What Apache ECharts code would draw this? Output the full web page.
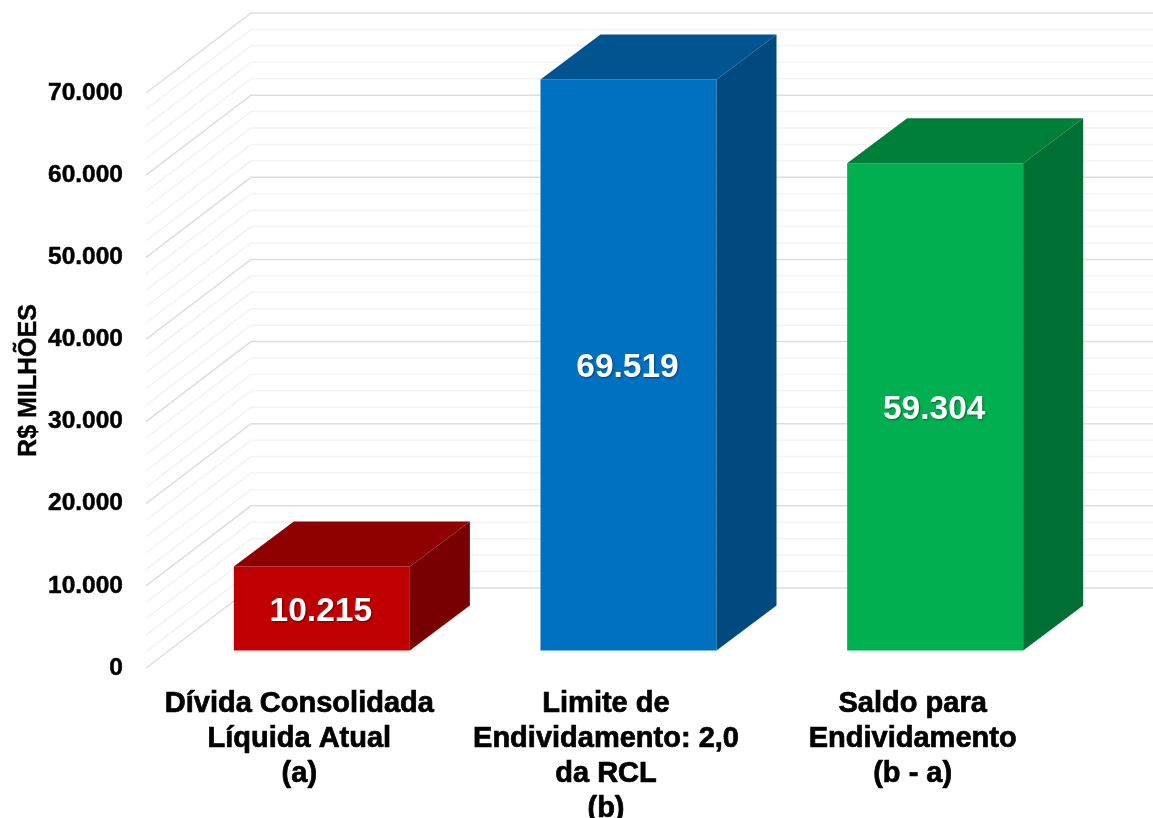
<!DOCTYPE html>
<html><head><meta charset="utf-8">
<style>html,body{margin:0;padding:0;background:#fff}#c{width:1153px;height:818px}</style>
<script src="https://cdn.jsdelivr.net/npm/echarts@6/dist/echarts.min.js"></script>
</head><body><div id="c"></div>
<script>
const categories = ['Dívida Consolidada\nLíquida Atual\n(a)', 'Limite de\nEndividamento: 2,0\nda RCL\n(b)', 'Saldo para\nEndividamento\n(b - a)'];
const values = [10215, 69519, 59304];
const valueLabels = ['10.215', '69.519', '59.304'];
const majorTicks = [0, 10000, 20000, 30000, 40000, 50000, 60000, 70000];
const minorTicks = [2000,4000,6000,8000,12000,14000,16000,18000,22000,24000,26000,28000,32000,34000,36000,38000,42000,44000,46000,48000,52000,54000,56000,58000,62000,64000,66000,68000];
const tickLabels = {0:'0',10000:'10.000',20000:'20.000',30000:'30.000',40000:'40.000',50000:'50.000',60000:'60.000',70000:'70.000'};
const frontColors = ['#C00000', '#0070C0', '#00B050'];
const topColors = ['#8F0000', '#00548F', '#007F39'];
const sideColors = ['#790000', '#004A7F', '#006F33'];

const FONT = '"Liberation Sans", Arial, sans-serif';
const WALL_DX = 105, WALL_DY = -80;      // depth of the floor / side wall
const BAR_FX = 22.5, BAR_FY = -17.5;     // gap from front of floor to bar front
const BAR_DX = 60, BAR_DY = -45;         // depth of bar
const BAR_RATIO = 0.574;

function gridRender(color, width) {
  return function (params, api) {
    const cs = params.coordSys;
    const y = api.coord([0, api.value(1)])[1];
    return {
      type: 'polyline', silent: true,
      shape: { points: [[cs.x, y], [cs.x + WALL_DX, y + WALL_DY], [1160, y + WALL_DY]] },
      style: { fill: null, stroke: color, lineWidth: width }
    };
  };
}
function barRender(params, api) {
  const i = api.value(0), v = api.value(1);
  const c0 = api.coord([i, 0]), c1 = api.coord([i, v]);
  const w = api.size([1, 0])[0] * BAR_RATIO;
  const l = c0[0] - w / 2 + BAR_FX, r = l + w;
  const b = c0[1] + BAR_FY, t = c1[1] + BAR_FY;
  return {
    type: 'group',
    children: [
      { type: 'polygon', shape: { points: [[l, t], [r, t], [r, b], [l, b]] }, style: { fill: frontColors[i] } },
      { type: 'polygon', shape: { points: [[l, t], [r, t], [r + BAR_DX, t + BAR_DY], [l + BAR_DX, t + BAR_DY]] }, style: { fill: topColors[i] } },
      { type: 'polygon', shape: { points: [[r, t], [r + BAR_DX, t + BAR_DY], [r + BAR_DX, b + BAR_DY], [r, b]] }, style: { fill: sideColors[i] } },
      { type: 'text', z2: 10, style: {
          x: (l + r) / 2 - 1, y: (t + b) / 2 + 3, text: valueLabels[i], fill: '#fff',
          font: 'bold 33.5px ' + FONT, align: 'center', verticalAlign: 'middle',
          textShadowColor: 'rgba(0,0,0,0.4)', textShadowBlur: 2, textShadowOffsetX: 1, textShadowOffsetY: 1
      } }
    ]
  };
}
const chart = echarts.init(document.getElementById('c'), null, { renderer: 'canvas', width: 1153, height: 818 });
chart.setOption({
  animation: false,
  backgroundColor: '#fff',
  grid: { left: 146, top: 93, width: 920, height: 575, containLabel: false, outerBoundsMode: 'none' },
  xAxis: {
    type: 'category', data: categories,
    axisLine: { show: false }, axisTick: { show: false }, splitLine: { show: false },
    axisLabel: { interval: 0, margin: 18, color: '#000', fontFamily: FONT, fontWeight: 'bold', fontSize: 29, lineHeight: 35, verticalAlign: 'top', textBorderColor: '#000', textBorderWidth: 0.7 }
  },
  yAxis: {
    type: 'value', min: 0, max: 70000, interval: 10000,
    name: 'R$ MILHÕES', nameLocation: 'middle', nameGap: 104, nameRotate: 90, nameMoveOverlap: false,
    nameTextStyle: { color: '#000', fontFamily: FONT, fontWeight: 'bold', fontSize: 25, textBorderColor: '#000', textBorderWidth: 0.4 },
    axisLine: { show: false }, axisTick: { show: false }, splitLine: { show: false },
    axisLabel: { margin: 23, color: '#000', fontFamily: FONT, fontWeight: 'bold', fontSize: 24.5, padding: [0, 0, 2, 0], textBorderColor: '#000', textBorderWidth: 0.5, formatter: v => tickLabels[v] }
  },
  series: [
    { type: 'custom', coordinateSystem: 'cartesian2d', z: 1, silent: true, encode: { x: 0, y: 1 },
      data: minorTicks.map(v => [0, v]), renderItem: gridRender('#F3F3F3', 1.5) },
    { type: 'custom', coordinateSystem: 'cartesian2d', z: 2, silent: true, encode: { x: 0, y: 1 },
      data: majorTicks.map(v => [0, v]), renderItem: gridRender('#DEDEDE', 1.5) },
    { type: 'custom', coordinateSystem: 'cartesian2d', z: 3, encode: { x: 0, y: 1 },
      data: values.map((v, i) => [i, v]), renderItem: barRender }
  ]
});
</script></body></html>
